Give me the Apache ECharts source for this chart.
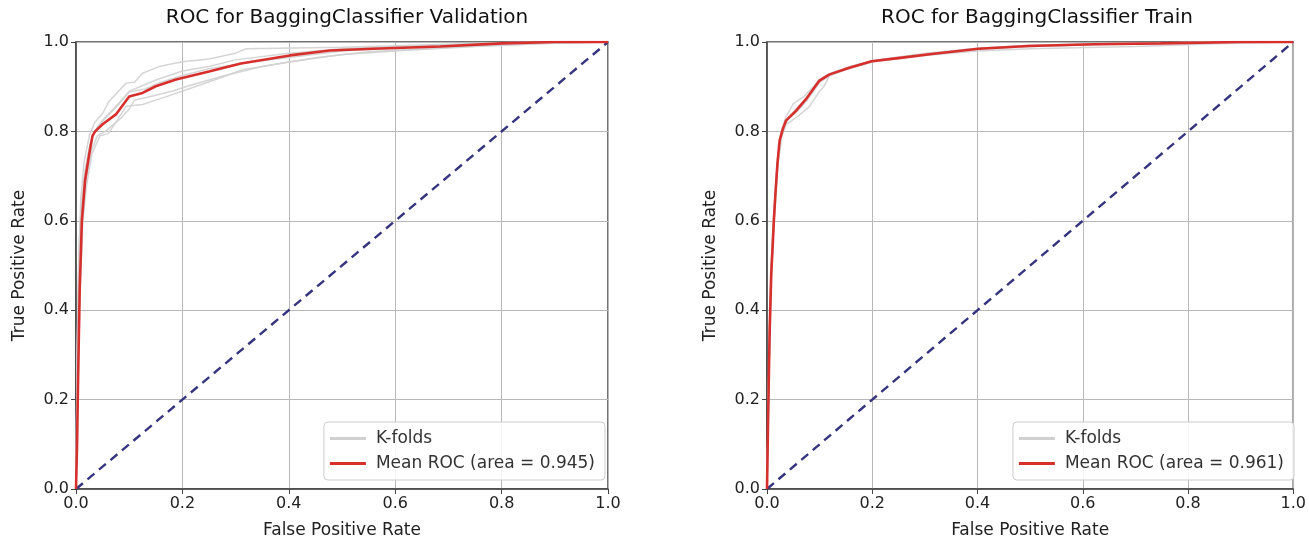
<!DOCTYPE html>
<html>
<head>
<meta charset="utf-8">
<script src="https://cdn.jsdelivr.net/npm/echarts@6/dist/echarts.min.js"></script>
<style>html,body{margin:0;padding:0;background:#fff}#c{width:1309px;height:544px}</style>
</head>
<body>
<div id="c"></div>
<script>
// ---- Data ----
const titles = ['ROC for BaggingClassifier Validation', 'ROC for BaggingClassifier Train'];
const meanLabels = ['Mean ROC (area = 0.945)', 'Mean ROC (area = 0.961)'];
const foldLabel = 'K-folds';
const tickValues = [0, 0.2, 0.4, 0.6, 0.8, 1.0];
const chanceLine = [[0, 0], [1, 1]];

// Validation: mean ROC [FPR, TPR]
const valMean = [[0,0],[0.002,0.1],[0.004,0.25],[0.007,0.45],[0.009,0.52],[0.011,0.6],[0.017,0.69],[0.025,0.75],[0.031,0.79],[0.036,0.8],[0.05,0.816],[0.075,0.838],[0.1,0.878],[0.125,0.886],[0.15,0.901],[0.188,0.916],[0.25,0.934],[0.31,0.952],[0.402,0.97],[0.477,0.981],[0.558,0.985],[0.684,0.99],[0.8,0.997],[0.9,1],[1,1]];
// Validation folds
const valFold1 = [[0,0],[0.002,0.25],[0.005,0.5],[0.009,0.65],[0.015,0.73],[0.025,0.79],[0.035,0.82],[0.05,0.84],[0.062,0.867],[0.08,0.89],[0.094,0.908],[0.11,0.91],[0.125,0.93],[0.156,0.945],[0.2,0.956],[0.25,0.962],[0.3,0.975],[0.32,0.985],[0.5,0.988],[0.7,0.995],[0.85,1],[1,1]];
const valFold2 = [[0,0],[0.003,0.2],[0.008,0.45],[0.013,0.6],[0.02,0.68],[0.03,0.75],[0.045,0.79],[0.06,0.795],[0.075,0.82],[0.094,0.856],[0.125,0.86],[0.163,0.875],[0.207,0.893],[0.26,0.915],[0.313,0.938],[0.4,0.955],[0.5,0.972],[0.6,0.98],[0.75,0.99],[0.9,0.998],[1,1]];
const valFold3 = [[0,0],[0.002,0.3],[0.006,0.55],[0.01,0.64],[0.018,0.72],[0.028,0.78],[0.04,0.81],[0.06,0.835],[0.08,0.86],[0.1,0.89],[0.12,0.9],[0.15,0.915],[0.2,0.935],[0.25,0.945],[0.3,0.96],[0.4,0.975],[0.5,0.985],[0.6,0.99],[0.8,0.998],[1,1]];
const valFold4 = [[0,0],[0.003,0.22],[0.007,0.5],[0.012,0.62],[0.02,0.7],[0.03,0.76],[0.04,0.79],[0.055,0.8],[0.07,0.815],[0.085,0.83],[0.1,0.85],[0.11,0.87],[0.14,0.878],[0.18,0.89],[0.22,0.905],[0.28,0.925],[0.35,0.945],[0.45,0.965],[0.55,0.978],[0.7,0.988],[0.9,0.997],[1,1]];
const valFold5 = [[0,0],[0.002,0.28],[0.005,0.5],[0.01,0.62],[0.016,0.7],[0.026,0.77],[0.035,0.8],[0.05,0.825],[0.07,0.85],[0.09,0.875],[0.1,0.888],[0.13,0.895],[0.16,0.91],[0.2,0.925],[0.25,0.94],[0.33,0.955],[0.42,0.968],[0.5,0.98],[0.65,0.99],[0.85,0.998],[1,1]];

// Train: mean ROC
const trainMean = [[0,0],[0.002,0.15],[0.005,0.35],[0.008,0.48],[0.011,0.55],[0.013,0.6],[0.016,0.66],[0.02,0.73],[0.024,0.78],[0.03,0.805],[0.036,0.824],[0.055,0.846],[0.074,0.872],[0.099,0.913],[0.118,0.927],[0.155,0.942],[0.199,0.957],[0.249,0.964],[0.313,0.973],[0.402,0.985],[0.496,0.991],[0.622,0.995],[0.748,0.997],[0.9,1],[1,1]];
// Train folds
const trainFold1 = [[0,0],[0.002,0.14],[0.005,0.34],[0.008,0.47],[0.013,0.59],[0.02,0.72],[0.026,0.78],[0.036,0.815],[0.06,0.835],[0.08,0.855],[0.1,0.89],[0.108,0.9],[0.12,0.928],[0.155,0.94],[0.2,0.955],[0.3,0.97],[0.4,0.98],[0.5,0.985],[0.7,0.99],[0.85,0.996],[1,1]];
const trainFold2 = [[0,0],[0.002,0.17],[0.005,0.38],[0.008,0.5],[0.013,0.62],[0.019,0.72],[0.025,0.79],[0.035,0.83],[0.05,0.862],[0.07,0.878],[0.1,0.915],[0.12,0.93],[0.16,0.945],[0.2,0.958],[0.3,0.975],[0.4,0.986],[0.5,0.992],[0.65,0.996],[0.85,1],[1,1]];
const trainFold3 = [[0,0],[0.002,0.15],[0.005,0.36],[0.008,0.49],[0.013,0.61],[0.02,0.74],[0.03,0.81],[0.04,0.83],[0.06,0.85],[0.075,0.87],[0.1,0.91],[0.12,0.925],[0.16,0.943],[0.2,0.956],[0.25,0.965],[0.32,0.975],[0.4,0.984],[0.5,0.99],[0.7,0.997],[0.9,1],[1,1]];
const trainFold4 = [[0,0],[0.002,0.13],[0.005,0.33],[0.009,0.49],[0.014,0.61],[0.021,0.73],[0.03,0.8],[0.04,0.828],[0.055,0.842],[0.075,0.868],[0.1,0.91],[0.12,0.928],[0.155,0.944],[0.2,0.958],[0.3,0.972],[0.4,0.986],[0.5,0.993],[0.65,0.996],[0.85,1],[1,1]];
const trainFold5 = [[0,0],[0.002,0.16],[0.005,0.37],[0.008,0.5],[0.012,0.6],[0.019,0.72],[0.027,0.8],[0.037,0.826],[0.055,0.85],[0.075,0.875],[0.098,0.915],[0.118,0.928],[0.155,0.941],[0.2,0.957],[0.25,0.963],[0.31,0.972],[0.4,0.985],[0.5,0.99],[0.62,0.994],[0.75,0.998],[0.9,1],[1,1]];

const valFolds = [valFold1, valFold2, valFold3, valFold4, valFold5];
const trainFolds = [trainFold1, trainFold2, trainFold3, trainFold4, trainFold5];

// ---- Styling / layout ----
const FONT = 'DejaVu Sans';
const gridsPos = [
  {left: 76, top: 42, width: 532, height: 450},
  {left: 767, top: 42, width: 530, height: 450}
];
const RED = '#d62f2c';
const GRAY = '#d0d0d0';
const NAVY = '#34347f';

function axisCommon(name, isY) {
  return {
    type: 'value', min: 0, max: 1, interval: 0.2,
    name: name, nameLocation: 'middle', nameGap: isY ? 48 : 33,
    nameTextStyle: {fontFamily: FONT, fontSize: 17, color: '#222'},
    axisLabel: {fontFamily: FONT, fontSize: 16, color: '#222', margin: 7,
      formatter: v => (tickValues.some(t => Math.abs(t - v) < 1e-9) ? v.toFixed(1) : '')},
    axisLine: {show: true, lineStyle: {color: '#444', width: 1.5}},
    axisTick: {show: true, length: 5, lineStyle: {color: '#444', width: 1}},
    splitLine: {show: true, lineStyle: {color: '#b8b8b8', width: 1}}
  };
}

const grid = gridsPos.map(g => Object.assign({show: true, borderColor: '#444', borderWidth: 1.5, backgroundColor: '#fff'}, g));
const xAxis = [0, 1].map(i => Object.assign(axisCommon('False Positive Rate', false), {gridIndex: i}));
const yAxis = [0, 1].map(i => Object.assign(axisCommon('True Positive Rate', true), {gridIndex: i}));

const series = [];
[valFolds, trainFolds].forEach((folds, gi) => {
  folds.forEach(f => series.push({
    name: foldLabel, type: 'line', xAxisIndex: gi, yAxisIndex: gi, data: f,
    showSymbol: false, symbol: 'none', color: GRAY,
    lineStyle: {color: GRAY, width: 1.5, opacity: 0.9}, z: 2
  }));
});
[chanceLine, chanceLine].forEach((d, gi) => series.push({
  name: 'Chance', type: 'line', xAxisIndex: gi, yAxisIndex: gi, data: d,
  showSymbol: false, symbol: 'none',
  lineStyle: {color: NAVY, width: 2.4, type: [9, 6]}, z: 3
}));
[valMean, trainMean].forEach((d, gi) => series.push({
  name: meanLabels[gi], type: 'line', xAxisIndex: gi, yAxisIndex: gi, data: d,
  showSymbol: false, symbol: 'none', color: RED,
  lineStyle: {color: RED, width: 2.6}, z: 4
}));

const legendCommon = {
  orient: 'vertical', top: 422, icon: 'rect', itemWidth: 36, itemHeight: 3, itemGap: 8,
  padding: [8, 10, 8, 6], backgroundColor: 'rgba(255,255,255,0.85)',
  borderColor: '#cccccc', borderWidth: 1, borderRadius: 4, selectedMode: false,
  textStyle: {fontFamily: FONT, fontSize: 17, color: '#333', padding: [0, 0, 0, 5]}
};
const legend = [
  Object.assign({right: 704, data: [foldLabel, meanLabels[0]]}, legendCommon),
  Object.assign({right: 15, data: [foldLabel, meanLabels[1]]}, legendCommon)
];

const title = titles.map((t, i) => ({
  text: t, left: gridsPos[i].left + gridsPos[i].width / 2, top: 3, textAlign: 'center',
  textStyle: {fontFamily: FONT, fontSize: 20, fontWeight: 'normal', color: '#111'}
}));

const chart = echarts.init(document.getElementById('c'), null, {renderer: 'canvas'});
chart.setOption({animation: false, backgroundColor: '#fff', title, grid, xAxis, yAxis, legend, series});
</script>
</body>
</html>
